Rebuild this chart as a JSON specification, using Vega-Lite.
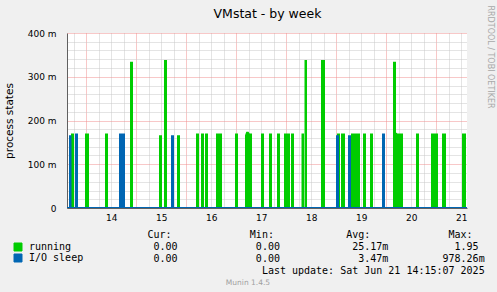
{
  "$schema": "https://vega.github.io/schema/vega-lite/v6.json",
  "width": 400,
  "height": 175,
  "autosize": {"type": "none"},
  "padding": {"left": 67, "top": 33, "right": 30, "bottom": 84},
  "background": "#F0F0F0",
  "config": {"view": {"fill": "#FFFFFF", "stroke": null}, "font": "DejaVu Sans"},
  "title": {"text": "Munin 1.4.5", "orient": "bottom", "anchor": "middle", "frame": "group", "dx": -19, "offset": 3, "fontSize": 7.5, "fontWeight": "normal", "color": "#A0A0A0", "font": "DejaVu Sans"},
  "datasets": {
    "running": [
      {"t": 13.614, "v": 0},
      {"t": 13.714, "v": 0}, {"t": 13.714, "v": 168}, {"t": 13.734, "v": 168}, {"t": 13.734, "v": 0},
      {"t": 13.994, "v": 0}, {"t": 13.994, "v": 168}, {"t": 14.034, "v": 168}, {"t": 14.034, "v": 0},
      {"t": 14.394, "v": 0}, {"t": 14.394, "v": 168}, {"t": 14.414, "v": 168}, {"t": 14.414, "v": 0},
      {"t": 14.894, "v": 0}, {"t": 14.894, "v": 332}, {"t": 14.914, "v": 332}, {"t": 14.914, "v": 0},
      {"t": 15.474, "v": 0}, {"t": 15.474, "v": 164}, {"t": 15.494, "v": 164}, {"t": 15.494, "v": 0},
      {"t": 15.574, "v": 0}, {"t": 15.574, "v": 336}, {"t": 15.594, "v": 336}, {"t": 15.594, "v": 0},
      {"t": 15.834, "v": 0}, {"t": 15.834, "v": 164}, {"t": 15.854, "v": 164}, {"t": 15.854, "v": 0},
      {"t": 16.214, "v": 0}, {"t": 16.214, "v": 168}, {"t": 16.234, "v": 168}, {"t": 16.234, "v": 0},
      {"t": 16.314, "v": 0}, {"t": 16.314, "v": 168}, {"t": 16.334, "v": 168}, {"t": 16.334, "v": 0},
      {"t": 16.394, "v": 0}, {"t": 16.394, "v": 168}, {"t": 16.414, "v": 168}, {"t": 16.414, "v": 0},
      {"t": 16.614, "v": 0}, {"t": 16.614, "v": 168}, {"t": 16.694, "v": 168}, {"t": 16.694, "v": 0},
      {"t": 16.994, "v": 0}, {"t": 16.994, "v": 168}, {"t": 17.014, "v": 168}, {"t": 17.014, "v": 0},
      {"t": 17.194, "v": 0}, {"t": 17.194, "v": 166}, {"t": 17.214, "v": 172}, {"t": 17.234, "v": 172}, {"t": 17.254, "v": 168}, {"t": 17.294, "v": 168}, {"t": 17.294, "v": 0},
      {"t": 17.514, "v": 0}, {"t": 17.514, "v": 168}, {"t": 17.534, "v": 168}, {"t": 17.534, "v": 0},
      {"t": 17.674, "v": 0}, {"t": 17.674, "v": 168}, {"t": 17.694, "v": 168}, {"t": 17.694, "v": 0},
      {"t": 17.834, "v": 0}, {"t": 17.834, "v": 168}, {"t": 17.854, "v": 168}, {"t": 17.854, "v": 0},
      {"t": 17.974, "v": 0}, {"t": 17.974, "v": 168}, {"t": 18.054, "v": 168}, {"t": 18.054, "v": 0},
      {"t": 18.114, "v": 0}, {"t": 18.114, "v": 168}, {"t": 18.134, "v": 168}, {"t": 18.134, "v": 0},
      {"t": 18.324, "v": 0}, {"t": 18.324, "v": 168}, {"t": 18.334, "v": 168}, {"t": 18.334, "v": 0},
      {"t": 18.384, "v": 0}, {"t": 18.384, "v": 336}, {"t": 18.394, "v": 336}, {"t": 18.394, "v": 0},
      {"t": 18.714, "v": 0}, {"t": 18.714, "v": 336}, {"t": 18.754, "v": 336}, {"t": 18.754, "v": 0},
      {"t": 19.034, "v": 0}, {"t": 19.034, "v": 168}, {"t": 19.054, "v": 168}, {"t": 19.054, "v": 0},
      {"t": 19.114, "v": 0}, {"t": 19.114, "v": 168}, {"t": 19.154, "v": 168}, {"t": 19.154, "v": 0},
      {"t": 19.314, "v": 0}, {"t": 19.314, "v": 168}, {"t": 19.454, "v": 168}, {"t": 19.454, "v": 0},
      {"t": 19.554, "v": 0}, {"t": 19.554, "v": 168}, {"t": 19.574, "v": 168}, {"t": 19.574, "v": 0},
      {"t": 19.694, "v": 0}, {"t": 19.694, "v": 168}, {"t": 19.714, "v": 168}, {"t": 19.714, "v": 0},
      {"t": 20.154, "v": 0}, {"t": 20.154, "v": 332}, {"t": 20.174, "v": 332}, {"t": 20.174, "v": 172}, {"t": 20.214, "v": 168}, {"t": 20.314, "v": 168}, {"t": 20.314, "v": 0},
      {"t": 20.614, "v": 0}, {"t": 20.614, "v": 168}, {"t": 20.634, "v": 168}, {"t": 20.634, "v": 0},
      {"t": 20.914, "v": 0}, {"t": 20.914, "v": 168}, {"t": 20.954, "v": 168}, {"t": 20.954, "v": 164}, {"t": 20.974, "v": 164}, {"t": 20.974, "v": 168}, {"t": 21.014, "v": 168}, {"t": 21.014, "v": 0},
      {"t": 21.134, "v": 0}, {"t": 21.134, "v": 168}, {"t": 21.174, "v": 168}, {"t": 21.174, "v": 0},
      {"t": 21.534, "v": 0}, {"t": 21.534, "v": 168}, {"t": 21.574, "v": 168}, {"t": 21.574, "v": 0},
      {"t": 21.614, "v": 0}
    ],
    "iosleep": [
      {"t": 13.614, "v": 0},
      {"t": 13.674, "v": 0}, {"t": 13.674, "v": 164}, {"t": 13.684, "v": 164}, {"t": 13.684, "v": 0},
      {"t": 13.794, "v": 0}, {"t": 13.794, "v": 168}, {"t": 13.814, "v": 168}, {"t": 13.814, "v": 0},
      {"t": 14.674, "v": 0}, {"t": 14.674, "v": 168}, {"t": 14.754, "v": 168}, {"t": 14.754, "v": 0},
      {"t": 15.714, "v": 0}, {"t": 15.714, "v": 164}, {"t": 15.734, "v": 164}, {"t": 15.734, "v": 0},
      {"t": 19.014, "v": 0}, {"t": 19.014, "v": 164}, {"t": 19.034, "v": 164}, {"t": 19.034, "v": 0},
      {"t": 19.254, "v": 0}, {"t": 19.254, "v": 164}, {"t": 19.274, "v": 164}, {"t": 19.274, "v": 0},
      {"t": 19.934, "v": 0}, {"t": 19.934, "v": 168}, {"t": 19.954, "v": 168}, {"t": 19.954, "v": 0},
      {"t": 21.614, "v": 0}
    ]
  },
  "layer": [
    {
      "data": {"name": "running"},
      "mark": {"type": "area", "opacity": 1, "clip": true},
      "encoding": {
        "x": {
          "field": "t", "type": "quantitative",
          "scale": {"domain": [13.614, 21.614], "nice": false, "zero": false},
          "axis": {
            "orient": "bottom",
            "values": [13.75,14,14.25,14.5,14.75,15,15.25,15.5,15.75,16,16.25,16.5,16.75,17,17.25,17.5,17.75,18,18.25,18.5,18.75,19,19.25,19.5,19.75,20,20.25,20.5,20.75,21,21.25,21.5],
            "grid": true,
            "gridColor": {"condition": {"test": "datum.value % 1 === 0", "value": "#F09090"}, "value": "#C8C8C8"},
            "gridDash": [1, 1],
            "gridWidth": 1,
            "ticks": false, "tickSize": 0,
            "domain": true, "domainColor": "#606060",
            "labelExpr": "datum.value % 1 === 0.5 ? '' + floor(datum.value) : ''",
            "labelFont": "DejaVu Sans", "labelFontSize": 9, "labelColor": "#000000", "labelPadding": 5,
            "labelOverlap": false, "labelFlush": false, "labelBound": false,
            "title": [
              "Cur:\u00a0\u00a0\u00a0\u00a0\u00a0\u00a0\u00a0\u00a0\u00a0\u00a0\u00a0\u00a0\u00a0Min:\u00a0\u00a0\u00a0\u00a0\u00a0\u00a0\u00a0\u00a0\u00a0\u00a0\u00a0\u00a0Avg:\u00a0\u00a0\u00a0\u00a0\u00a0\u00a0\u00a0\u00a0\u00a0\u00a0\u00a0\u00a0\u00a0Max:",
              "\u200b\u00a00.00\u00a0\u00a0\u00a0\u00a0\u00a0\u00a0\u00a0\u00a0\u00a0\u00a0\u00a0\u00a0\u00a00.00\u00a0\u00a0\u00a0\u00a0\u00a0\u00a0\u00a0\u00a0\u00a0\u00a0\u00a0\u00a025.17m\u00a0\u00a0\u00a0\u00a0\u00a0\u00a0\u00a0\u00a0\u00a0\u00a0\u00a01.95",
              "\u200b\u00a00.00\u00a0\u00a0\u00a0\u00a0\u00a0\u00a0\u00a0\u00a0\u00a0\u00a0\u00a0\u00a0\u00a00.00\u00a0\u00a0\u00a0\u00a0\u00a0\u00a0\u00a0\u00a0\u00a0\u00a0\u00a0\u00a0\u00a03.47m\u00a0\u00a0\u00a0\u00a0\u00a0\u00a0\u00a0\u00a0\u00a0978.26m",
              "\u200b\u00a0\u00a0\u00a0\u00a0\u00a0\u00a0\u00a0\u00a0\u00a0\u00a0\u00a0\u00a0\u00a0\u00a0\u00a0\u00a0\u00a0\u00a0\u00a0Last update: Sat Jun 21 14:15:07 2025"
            ],
            "titleFont": "DejaVu Sans Mono", "titleFontSize": 10, "titleFontWeight": "normal", "titleColor": "#000000",
            "titleX": 80, "titleY": 29.6, "titleAlign": "left", "titleAnchor": "start", "titleBaseline": "alphabetic", "titleLineHeight": 12
          }
        },
        "y": {
          "field": "v", "type": "quantitative", "stack": null,
          "scale": {"domain": [0, 400], "nice": false},
          "axis": {
            "orient": "left",
            "values": [0,20,40,60,80,100,120,140,160,180,200,220,240,260,280,300,320,340,360,380,400],
            "grid": true,
            "gridColor": {"condition": {"test": "datum.value % 100 === 0", "value": "#F09090"}, "value": "#C8C8C8"},
            "gridDash": [1, 1],
            "gridWidth": 1,
            "ticks": false, "tickSize": 0,
            "domain": true, "domainColor": "#606060",
            "labelExpr": "datum.value % 100 === 0 ? (datum.value === 0 ? '0' : datum.value + ' m') : ''",
            "labelFont": "DejaVu Sans", "labelFontSize": 9, "labelColor": "#000000", "labelPadding": 11,
            "labelOverlap": false, "labelFlush": false, "labelBound": false,
            "title": "process states",
            "titleFont": "DejaVu Sans", "titleFontSize": 10.5, "titleFontWeight": "normal", "titleColor": "#000000",
            "titleX": -54.3, "titleY": 87.5, "titleAngle": -90, "titleAlign": "center", "titleBaseline": "alphabetic", "titleAnchor": "middle"
          }
        },
        "color": {
          "datum": "running",
          "scale": {"domain": ["running", "I/O sleep"], "range": ["#00CC00", "#0066B3"]},
          "legend": {
            "orient": "none", "legendX": -54, "legendY": 209, "title": null, "padding": 0, "offset": 0,
            "direction": "vertical",
            "symbolType": "square", "symbolSize": 64, "symbolStrokeWidth": 1,
            "labelFont": "DejaVu Sans Mono", "labelFontSize": 10, "labelColor": "#000000", "labelOffset": 6,
            "rowPadding": -1.5,
            "encode": {"symbols": {"update": {"fill": {"scale": "color", "field": "value"}, "stroke": {"value": "#000000"}, "strokeWidth": {"value": 1}, "opacity": {"value": 1}}}}
          }
        },
        "order": {"value": null}
      }
    },
    {
      "data": {"name": "running"},
      "mark": {"type": "line", "strokeWidth": 2, "strokeJoin": "miter", "strokeMiterLimit": 1.5, "strokeCap": "butt", "clip": true},
      "encoding": {
        "x": {"field": "t", "type": "quantitative", "axis": null},
        "y": {"field": "v", "type": "quantitative", "axis": null},
        "color": {"datum": "running"},
        "order": {"value": null}
      }
    },
    {
      "data": {"name": "iosleep"},
      "mark": {"type": "area", "opacity": 1, "clip": true},
      "encoding": {
        "x": {
          "field": "t", "type": "quantitative",
          "axis": {
            "orient": "top", "grid": false, "labels": false, "ticks": false, "domain": false,
            "title": "VMstat - by week",
            "titleFont": "DejaVu Sans", "titleFontSize": 12.5, "titleFontWeight": "normal", "titleColor": "#000000",
            "titleX": 200, "titleY": -16, "titleAlign": "center", "titleBaseline": "alphabetic", "titleAnchor": "middle"
          }
        },
        "y": {
          "field": "v", "type": "quantitative", "stack": null,
          "axis": {
            "orient": "right", "grid": false, "labels": false, "ticks": false, "domain": false,
            "title": "RRDTOOL / TOBI OETIKER",
            "titleFont": "DejaVu Sans", "titleFontSize": 8, "titleFontWeight": "normal", "titleColor": "#A8A8A8",
            "titleAngle": 90, "titleX": 22, "titleY": 23.5, "titleAlign": "center", "titleBaseline": "middle", "titleAnchor": "middle"
          }
        },
        "color": {"datum": "I/O sleep"},
        "order": {"value": null}
      }
    },
    {
      "data": {"name": "iosleep"},
      "mark": {"type": "line", "strokeWidth": 2, "strokeJoin": "miter", "strokeMiterLimit": 1.5, "strokeCap": "butt", "clip": true},
      "encoding": {
        "x": {"field": "t", "type": "quantitative", "axis": null},
        "y": {"field": "v", "type": "quantitative", "axis": null},
        "color": {"datum": "I/O sleep"},
        "order": {"value": null}
      }
    }
  ],
  "resolve": {"axis": {"x": "independent", "y": "independent"}}
}
